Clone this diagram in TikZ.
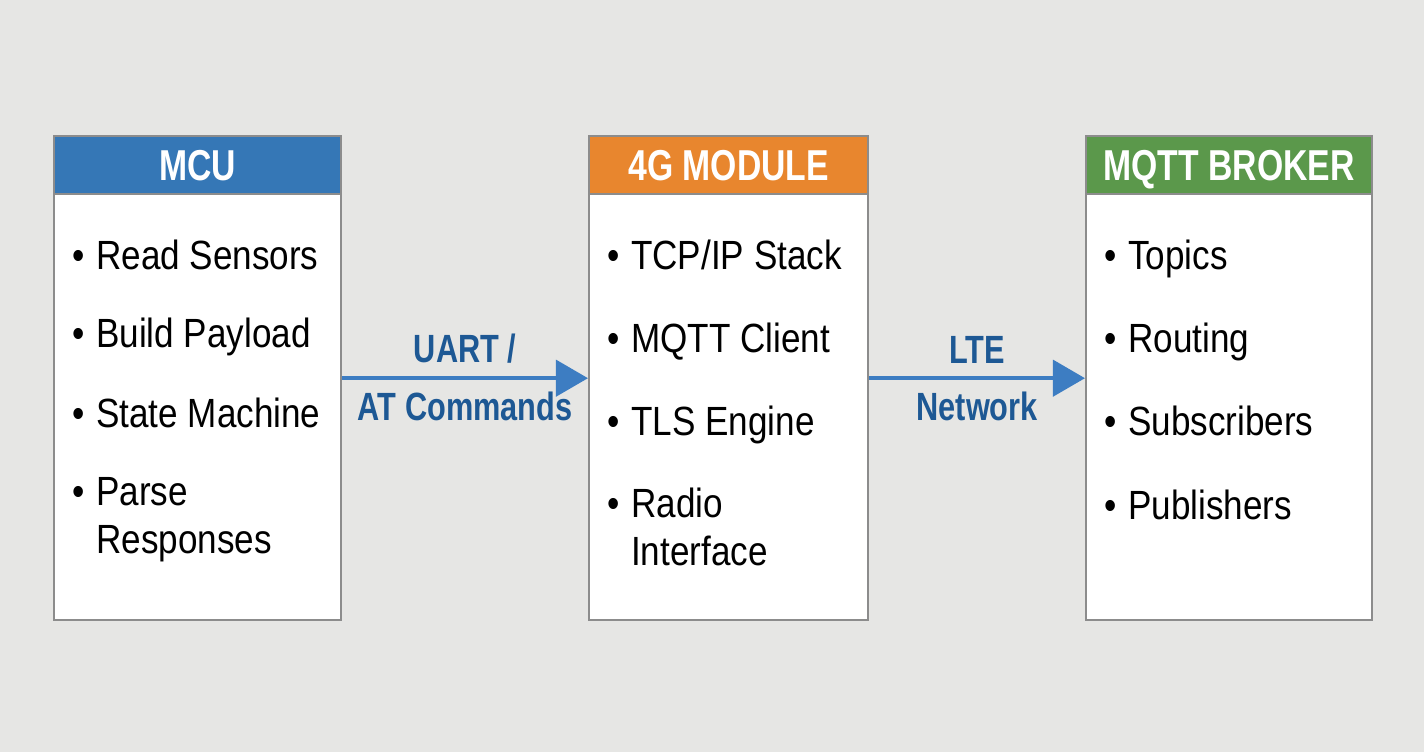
\documentclass[tikz,border=0pt]{standalone}
\usepackage{fontspec}
\setmainfont{Liberation Sans}[FakeStretch=0.86,BoldFeatures={FakeStretch=0.78}]
\usetikzlibrary{positioning,arrows.meta}

\definecolor{bgcol}{HTML}{E6E6E4}
\definecolor{boxline}{HTML}{8C8C8C}
\definecolor{mcublue}{HTML}{3577B6}
\definecolor{modorange}{HTML}{E8862E}
\definecolor{brokergreen}{HTML}{5B984B}
\definecolor{arrowblue}{HTML}{3D7DC2}
\definecolor{labelblue}{HTML}{1D5894}

\newcommand{\bitem}[1]{\begin{tabular}{@{}l@{\hspace{3.2pt}}l@{}}\textbullet & #1\end{tabular}}

\begin{document}
\begin{tikzpicture}[x=0.01cm,y=-0.01cm,
    body/.style={draw=boxline,line width=0.6pt,fill=white,anchor=north west,
                 minimum height=4.84cm,inner sep=0pt},
    head/.style={draw=boxline,line width=0.6pt,anchor=north west,minimum height=0.58cm,
                 inner sep=0pt,text height=8.8pt,text depth=0pt,text=white,
                 font=\fontsize{12.3}{14}\selectfont\bfseries},
    item/.style={anchor=west,inner sep=0pt,font=\fontsize{11.6}{13.6}\selectfont},
    link/.style={-{Triangle[length=0.32cm,width=0.36cm]},arrowblue,line width=1.2pt},
    tag/.style={text=labelblue,font=\fontsize{11.2}{13}\selectfont\bfseries,inner sep=0pt}]

\useasboundingbox[fill=bgcol] (0,0) rectangle (1424,752);

% MCU
\node[body,minimum width=2.87cm] (mcu) at (53,135) {};
\node[head,minimum width=2.87cm,fill=mcublue] (mcuhead) at (53,135) {MCU};
\node[item] (mcu1) at (72,260) {\bitem{Read Sensors}};
\node[item] (mcu2) at (72,338) {\bitem{Build Payload}};
\node[item] (mcu3) at (72,418) {\bitem{State Machine}};
\node[item] (mcu4) at (72,520) {\bitem{Parse\\ & Responses}};

% 4G module
\node[body,minimum width=2.79cm] (mod) at (588,135) {};
\node[head,minimum width=2.79cm,fill=modorange] (modhead) at (588,135) {4G MODULE};
\node[item] (mod1) at (607,260) {\bitem{TCP/IP Stack}};
\node[item] (mod2) at (607,343) {\bitem{MQTT Client}};
\node[item] (mod3) at (607,426) {\bitem{TLS Engine}};
\node[item] (mod4) at (607,532) {\bitem{Radio\\ & Interface}};

% broker
\node[body,minimum width=2.86cm] (broker) at (1085,135) {};
\node[head,minimum width=2.86cm,fill=brokergreen] (brokerhead) at (1085,135) {MQTT BROKER};
\node[item] (broker1) at (1104,260) {\bitem{Topics}};
\node[item] (broker2) at (1104,343) {\bitem{Routing}};
\node[item] (broker3) at (1104,426) {\bitem{Subscribers}};
\node[item] (broker4) at (1104,510) {\bitem{Publishers}};

\draw[link] (mcu.east) -- node[tag,above=0.13cm] (uart) {UART /}
                          node[tag,below=0.12cm] (atcmd) {AT Commands} (mod.west);
\draw[link] (mod.east) -- node[tag,above=0.13cm] (lte) {LTE}
                          node[tag,below=0.12cm] (net) {Network} (broker.west);
\end{tikzpicture}
\end{document}
